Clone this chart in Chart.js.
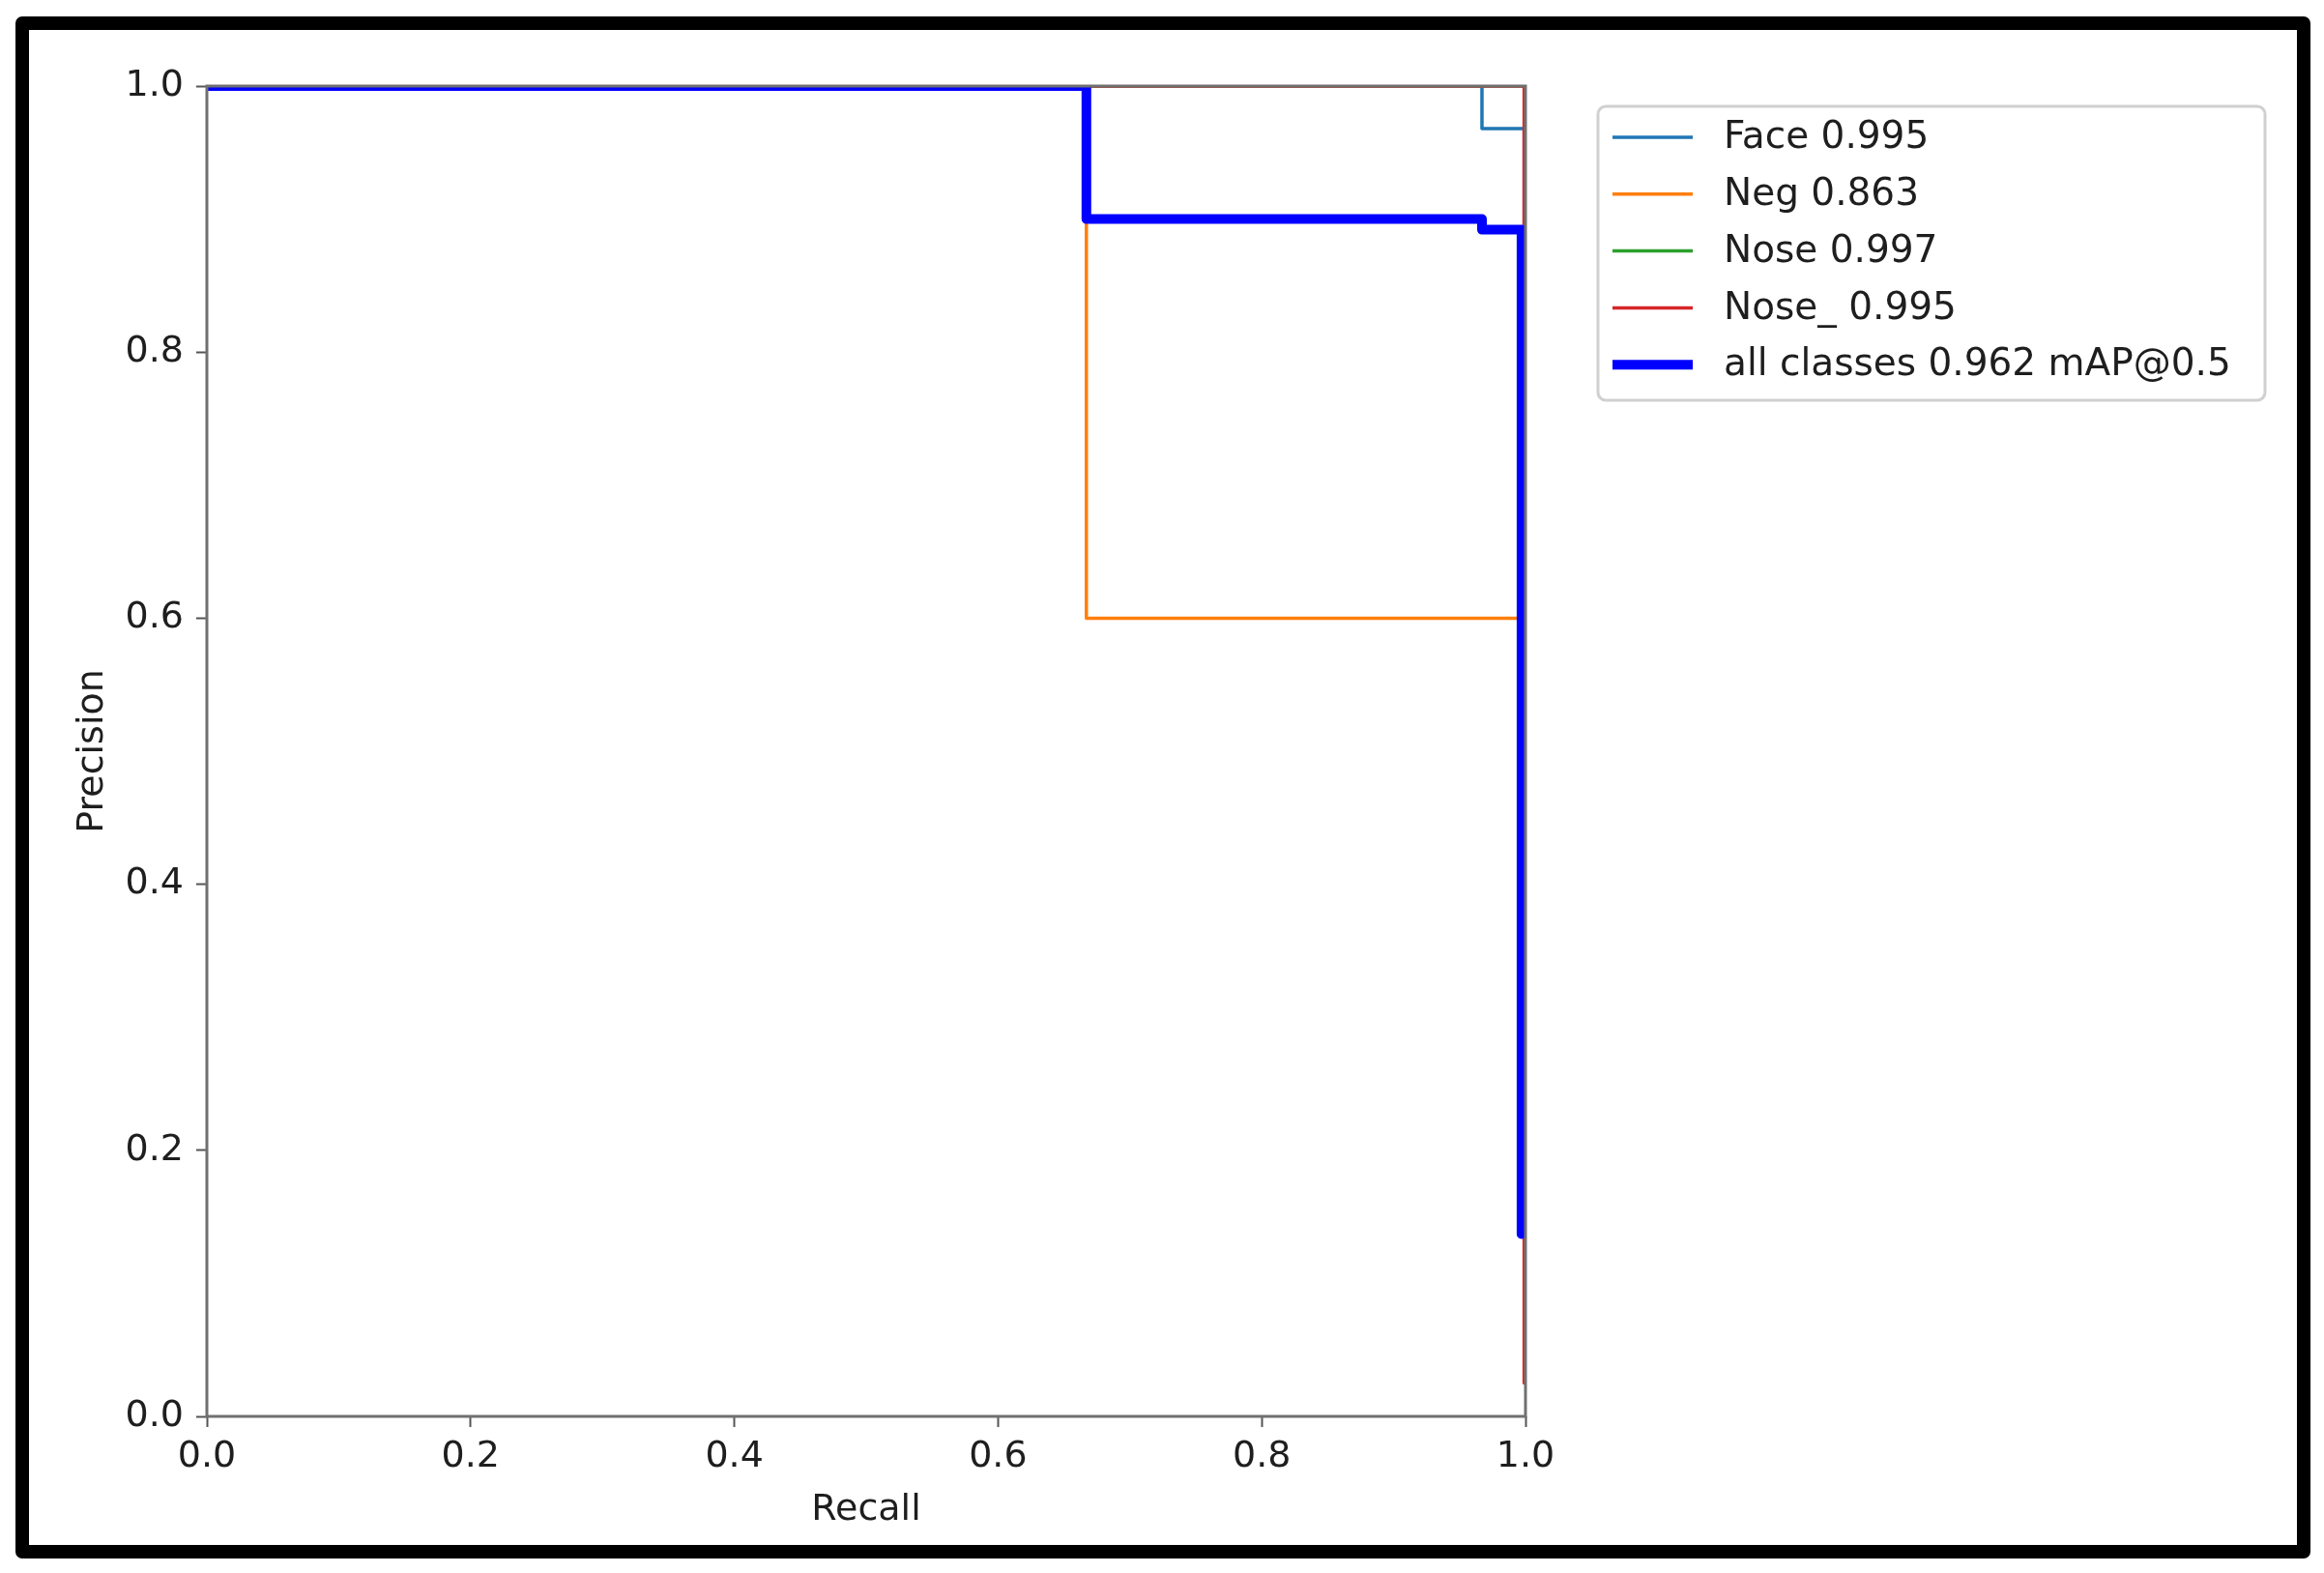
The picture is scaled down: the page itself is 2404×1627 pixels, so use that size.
<!DOCTYPE html>
<html>
<head>
<meta charset="utf-8">
<title>Precision-Recall Curve</title>
<script src="https://cdn.jsdelivr.net/npm/chart.js@4.4.1/dist/chart.umd.min.js"></script>
<style>
  html, body { margin: 0; padding: 0; background: #fff; }
  #wrap { width: 2404px; height: 1627px; }
</style>
</head>
<body>
<div id="wrap"><canvas id="prChart" width="2404" height="1627"></canvas></div>
<script>
const tickValues = [0, 0.2, 0.4, 0.6, 0.8, 1.0];
const tickLabels = ["0.0", "0.2", "0.4", "0.6", "0.8", "1.0"];

const seriesNames = ["Face 0.995", "Neg 0.863", "Nose 0.997", "Nose_ 0.995", "all classes 0.962 mAP@0.5"];
const seriesColors = ["#1f77b4", "#ff7f0e", "#2ca02c", "#d62728", "#0000ff"];

// step curves: recall / precision vertices
const faceRecall = [0, 0.967, 0.967, 0.999, 0.999];
const facePrecision = [1, 1, 0.968, 0.968, 0.20];
const negRecall = [0, 0.667, 0.667, 0.996, 0.996];
const negPrecision = [1, 1, 0.6, 0.6, 0.14];
const noseRecall = [0, 1.0, 1.0];
const nosePrecision = [1, 1, 0.18];
const nose2Recall = [0, 0.999, 0.999];
const nose2Precision = [1, 1, 0.025];
const allRecall = [0, 0.667, 0.667, 0.967, 0.967, 0.997, 0.997];
const allPrecision = [1, 1, 0.9, 0.9, 0.892, 0.892, 0.137];

Chart.defaults.font.family = "'DejaVu Sans', sans-serif";

const toPoints = (rx, py) => rx.map((r, i) => ({ x: r, y: py[i] }));

const curves = [
  toPoints(faceRecall, facePrecision),
  toPoints(negRecall, negPrecision),
  toPoints(noseRecall, nosePrecision),
  toPoints(nose2Recall, nose2Precision),
  toPoints(allRecall, allPrecision),
];

const datasets = curves.map((pts, i) => ({
  label: seriesNames[i],
  data: pts,
  borderColor: seriesColors[i],
  borderWidth: i === 4 ? 10 : 3.5,
  pointRadius: 0,
  tension: 0,
  fill: false,
  borderJoinStyle: "round",
  order: 4 - i,
}));

// white page + black picture frame
const pageFrame = {
  id: "pageFrame",
  beforeDraw(chart) {
    const c = chart.ctx;
    c.save();
    c.fillStyle = "#fff";
    c.fillRect(0, 0, chart.width, chart.height);
    c.strokeStyle = "#000";
    c.lineWidth = 14;
    c.lineJoin = "round";
    c.strokeRect(23, 24, 2360, 1581);
    c.restore();
  }
};

// axes box (all four spines), drawn over the curves like matplotlib
const axesBox = {
  id: "axesBox",
  afterDatasetsDraw(chart) {
    const { left, top, right, bottom } = chart.chartArea;
    const c = chart.ctx;
    c.save();
    c.strokeStyle = "#707070";
    c.lineWidth = 3;
    c.strokeRect(left, top, right - left, bottom - top);
    c.restore();
  }
};

// matplotlib style legend box to the right of the axes
const boxLegend = {
  id: "boxLegend",
  afterDraw(chart) {
    const c = chart.ctx;
    const area = chart.chartArea;
    const x0 = area.right + 75;
    const y0 = area.top + 21;
    const w = 690, h = 304;
    c.save();
    c.beginPath();
    c.roundRect(x0, y0, w, h, 8);
    c.fillStyle = "rgba(255,255,255,0.9)";
    c.fill();
    c.strokeStyle = "#d0d0d0";
    c.lineWidth = 3;
    c.stroke();
    c.font = "39px 'DejaVu Sans'";
    c.textBaseline = "middle";
    c.fillStyle = "#1e1e1e";
    chart.data.datasets.forEach((ds, i) => {
      const y = y0 + 32 + i * 58.8;
      c.beginPath();
      c.moveTo(x0 + 15, y);
      c.lineTo(x0 + 98, y);
      c.strokeStyle = ds.borderColor;
      c.lineWidth = ds.borderWidth;
      c.stroke();
      c.fillText(ds.label, x0 + 130, y + 1);
    });
    c.restore();
  }
};

const axisFont = { size: 38 };

new Chart(document.getElementById("prChart"), {
  type: "line",
  data: { datasets },
  options: {
    responsive: false,
    animation: false,
    layout: { padding: { left: 40, top: 89, right: 826, bottom: 30 } },
    plugins: { legend: { display: false }, tooltip: { enabled: false } },
    scales: {
      x: {
        type: "linear",
        min: 0,
        max: 1,
        afterBuildTicks: (s) => { s.ticks = tickValues.map(v => ({ value: v })); },
        afterFit: (s) => { s.height = 132; },
        grid: { drawOnChartArea: false, drawTicks: true, tickLength: 11, tickColor: "#555", tickWidth: 2 },
        border: { display: false },
        ticks: { padding: 8, color: "#1e1e1e", font: axisFont, maxRotation: 0, callback: (v, i) => tickLabels[i] },
        title: { display: true, text: "Recall", color: "#1e1e1e", font: axisFont, padding: { top: 0, bottom: 12 } }
      },
      y: {
        type: "linear",
        min: 0,
        max: 1,
        afterBuildTicks: (s) => { s.ticks = tickValues.map(v => ({ value: v })); },
        afterFit: (s) => { s.width = 174; },
        grid: { drawOnChartArea: false, drawTicks: true, tickLength: 11, tickColor: "#555", tickWidth: 2 },
        border: { display: false },
        ticks: { padding: 13, color: "#1e1e1e", font: axisFont, callback: (v, i) => tickLabels[i] },
        title: { display: true, text: "Precision", color: "#1e1e1e", font: axisFont, padding: { top: 33, bottom: 0 } }
      }
    }
  },
  plugins: [pageFrame, axesBox, boxLegend]
});
</script>
</body>
</html>
